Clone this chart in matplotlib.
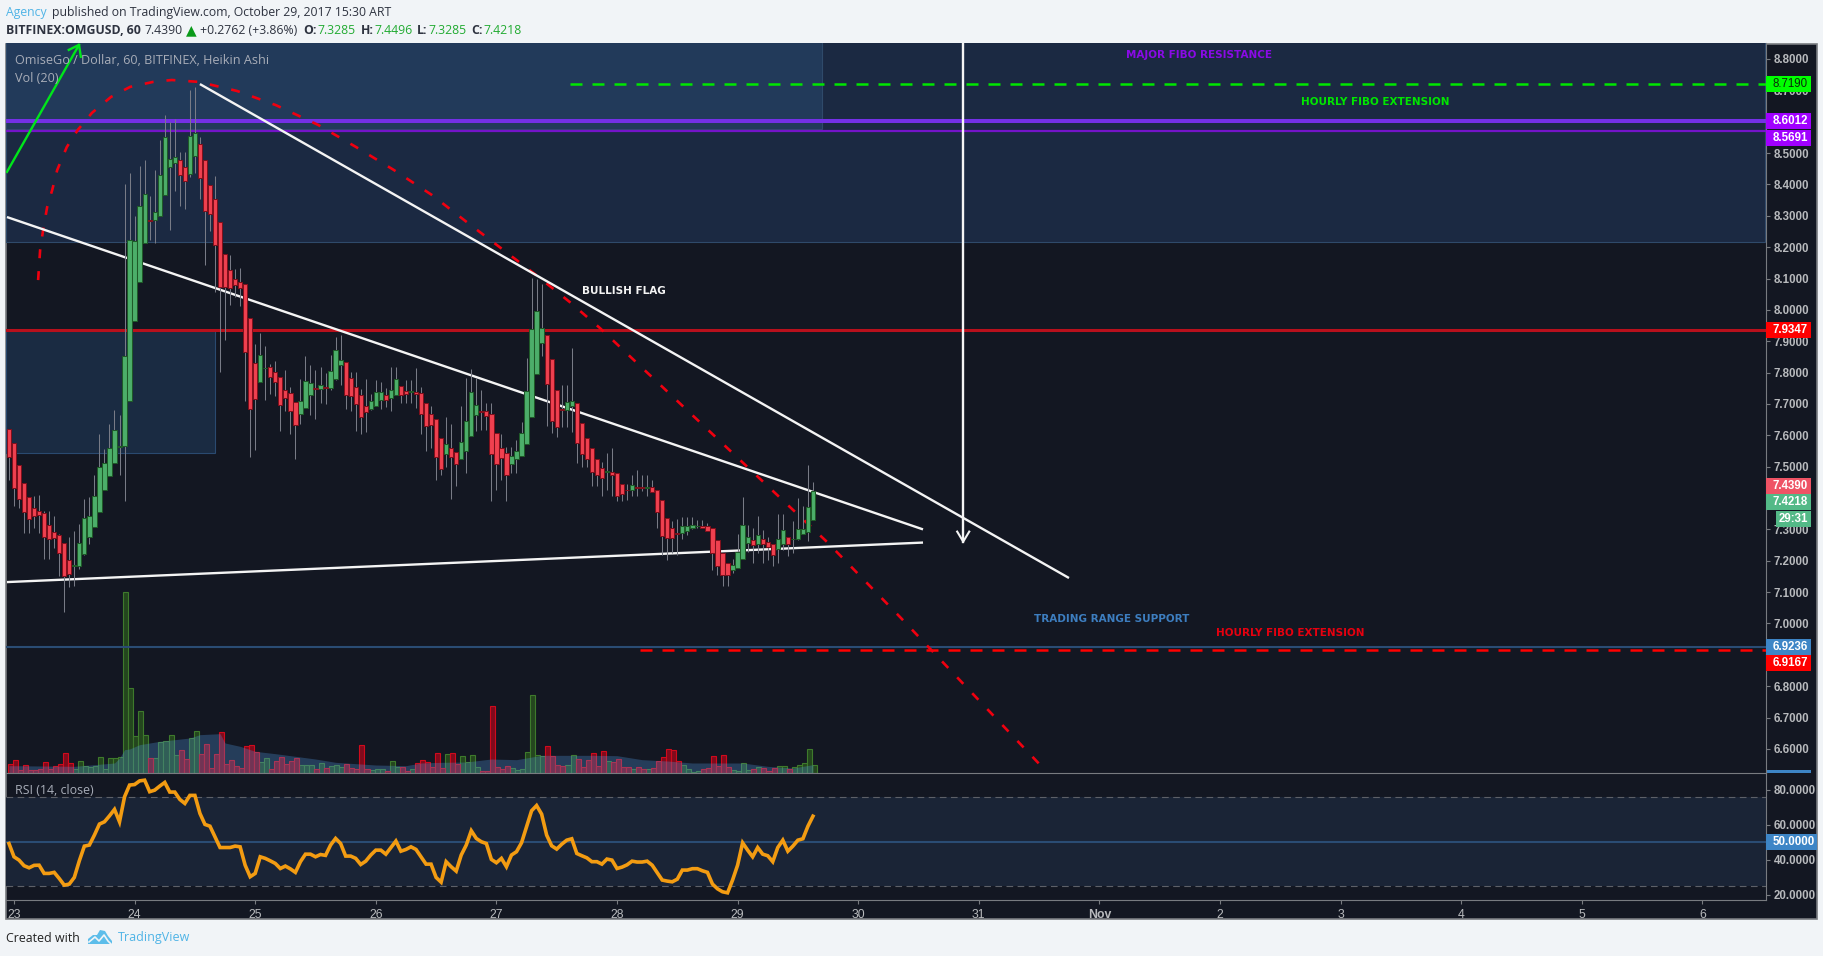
#!/usr/bin/env python3
import numpy as np
import matplotlib
matplotlib.use("Agg")
import matplotlib.pyplot as plt
from matplotlib.patches import Rectangle, Polygon
from matplotlib.ticker import FormatStrFormatter

W, H = 1824, 956
BG = "#f1f4f7"
DARK = "#131722"
GRID = "#787b80"
TXT = "#b8babd"

# hourly bars, hours counted from Oct 23 00:00
hours = list(range(-1, 160))
opens = [7.619,7.575,7.505,7.449,7.403,7.368,7.358,7.352,7.313,7.291,
         7.281,7.256,7.202,7.182,7.182,7.221,7.277,7.309,7.357,7.427,
         7.469,7.513,7.564,7.567,7.709,7.965,8.090,8.212,8.288,8.288,
         8.300,8.365,8.456,8.467,8.478,8.454,8.434,8.492,8.528,8.477,
         8.397,8.352,8.279,8.177,8.126,8.100,8.090,8.081,7.973,7.830,
         7.771,7.814,7.817,7.801,7.785,7.744,7.734,7.706,7.668,7.688,
         7.730,7.750,7.749,7.754,7.752,7.778,7.823,7.833,7.782,7.753,
         7.728,7.693,7.683,7.695,7.714,7.728,7.720,7.730,7.757,7.741,
         7.738,7.737,7.734,7.702,7.667,7.651,7.591,7.542,7.559,7.546,
         7.526,7.551,7.599,7.666,7.677,7.676,7.667,7.607,7.559,7.543,
         7.510,7.523,7.535,7.571,7.657,7.797,7.895,7.919,7.842,7.744,
         7.684,7.682,7.692,7.702,7.639,7.591,7.559,7.524,7.497,7.483,
         7.484,7.479,7.445,7.427,7.427,7.435,7.435,7.433,7.435,7.425,
         7.393,7.336,7.304,7.289,7.288,7.296,7.303,7.310,7.312,7.310,
         7.304,7.266,7.224,7.192,7.172,7.178,7.205,7.258,7.266,7.255,
         7.269,7.261,7.253,7.236,7.253,7.275,7.268,7.268,7.285,7.291,7.3285]
closes = [7.532,7.431,7.398,7.354,7.332,7.344,7.347,7.275,7.269,7.271,
          7.226,7.150,7.159,7.186,7.256,7.336,7.344,7.406,7.498,7.513,
          7.559,7.616,7.567,7.852,8.223,8.219,8.330,8.368,8.284,8.313,
          8.429,8.550,8.480,8.486,8.431,8.412,8.554,8.563,8.421,8.316,
          8.306,8.208,8.074,8.074,8.071,8.080,8.071,7.867,7.683,7.715,
          7.855,7.816,7.787,7.771,7.698,7.720,7.676,7.634,7.709,7.772,
          7.766,7.747,7.760,7.752,7.804,7.871,7.839,7.730,7.724,7.701,
          7.657,7.674,7.709,7.737,7.737,7.714,7.744,7.779,7.727,7.731,
          7.741,7.731,7.668,7.631,7.634,7.532,7.494,7.572,7.532,7.507,
          7.578,7.645,7.737,7.696,7.674,7.660,7.542,7.510,7.529,7.475,
          7.533,7.549,7.607,7.741,7.938,7.995,7.941,7.763,7.647,7.628,
          7.681,7.706,7.709,7.574,7.542,7.526,7.484,7.475,7.465,7.487,
          7.475,7.408,7.414,7.425,7.441,7.432,7.432,7.436,7.418,7.357,
          7.280,7.272,7.274,7.286,7.310,7.310,7.313,7.312,7.306,7.296,
          7.226,7.182,7.155,7.153,7.186,7.227,7.313,7.275,7.249,7.281,
          7.252,7.243,7.217,7.269,7.297,7.253,7.270,7.301,7.301,7.371,7.4218]
highs = [7.619,7.575,7.505,7.449,7.403,7.405,7.410,7.359,7.359,7.343,
         7.285,7.256,7.275,7.295,7.318,7.397,7.404,7.474,7.605,7.556,
         7.636,7.681,7.665,8.400,8.435,8.299,8.458,8.478,8.363,8.446,
         8.541,8.621,8.600,8.608,8.503,8.503,8.700,8.710,8.550,8.477,
         8.397,8.427,8.279,8.177,8.175,8.130,8.132,8.081,7.973,7.891,
         7.925,7.885,7.828,7.836,7.785,7.809,7.755,7.706,7.779,7.853,
         7.825,7.809,7.819,7.800,7.856,7.913,7.920,7.833,7.803,7.803,
         7.748,7.779,7.732,7.775,7.771,7.750,7.819,7.819,7.757,7.775,
         7.775,7.815,7.753,7.702,7.694,7.651,7.591,7.658,7.636,7.546,
         7.694,7.782,7.811,7.782,7.745,7.702,7.702,7.607,7.605,7.564,
         7.564,7.585,7.644,7.847,8.101,8.097,8.082,7.919,7.842,7.744,
         7.759,7.761,7.879,7.702,7.639,7.591,7.559,7.524,7.516,7.543,
         7.560,7.479,7.445,7.445,7.475,7.490,7.474,7.474,7.458,7.425,
         7.393,7.336,7.327,7.334,7.341,7.339,7.341,7.330,7.330,7.320,
         7.304,7.266,7.224,7.192,7.206,7.286,7.404,7.314,7.304,7.343,
         7.298,7.277,7.253,7.350,7.348,7.275,7.327,7.400,7.375,7.506,7.4496]
lows = [7.458,7.375,7.368,7.288,7.288,7.304,7.288,7.206,7.206,7.240,
        7.152,7.035,7.115,7.118,7.174,7.219,7.254,7.309,7.357,7.426,
        7.469,7.511,7.474,7.391,7.709,7.965,8.090,8.212,8.223,8.214,
        8.300,8.365,8.254,8.380,8.331,8.321,8.424,8.435,8.352,8.143,
        8.251,8.058,7.803,7.904,8.015,8.042,8.012,7.708,7.532,7.554,
        7.771,7.713,7.732,7.726,7.614,7.676,7.605,7.525,7.636,7.688,
        7.665,7.652,7.702,7.700,7.745,7.777,7.759,7.684,7.679,7.614,
        7.605,7.609,7.681,7.695,7.684,7.690,7.679,7.730,7.704,7.704,
        7.702,7.686,7.605,7.551,7.559,7.458,7.474,7.500,7.397,7.439,
        7.526,7.479,7.599,7.614,7.617,7.617,7.391,7.426,7.458,7.391,
        7.479,7.479,7.535,7.571,7.657,7.797,7.853,7.630,7.607,7.596,
        7.625,7.628,7.609,7.513,7.500,7.498,7.439,7.437,7.405,7.426,
        7.407,7.391,7.391,7.394,7.405,7.405,7.424,7.405,7.418,7.304,
        7.218,7.201,7.224,7.217,7.270,7.283,7.301,7.304,7.305,7.296,
        7.169,7.155,7.120,7.120,7.162,7.178,7.205,7.229,7.192,7.224,
        7.194,7.203,7.184,7.192,7.235,7.216,7.224,7.267,7.285,7.264,7.3285]
volumes = [28,40,10,25,10,10,13,33,13,20,
           28,60,31,13,36,20,17,22,48,12,
           46,46,48,543,255,110,186,115,46,46,
           93,96,114,54,70,43,106,127,58,88,
           16,58,123,28,40,20,16,80,85,64,
           34,46,13,37,49,28,37,46,25,25,
           23,13,31,16,20,25,19,28,16,13,
           85,13,9,13,13,7,37,19,19,7,
           13,31,39,33,18,60,15,58,60,28,
           51,33,54,18,6,6,201,18,12,21,
           15,9,12,63,234,54,51,81,51,24,
           21,24,54,42,18,39,60,21,66,36,
           33,42,18,18,12,18,12,12,15,36,
           48,72,69,36,24,12,3,6,12,15,
           51,21,54,18,9,6,30,9,12,18,
           15,6,15,21,21,12,18,24,30,72,24]
vol_ma_hours = [-1,12,20,21,22,23,25,27,29,32,35,37,41,42,45,48,52,56,60,64,68,72,78,81,
                85,90,95,100,105,110,115,120,125,130,135,140,145,150,155,159]
vol_ma = [22,20,30,45,70,72,85,90,95,100,105,115,118,90,80,65,58,50,42,32,28,24,22,30,
          32,33,42,40,53,53,53,52,40,36,30,30,30,20,15,25]
rsi = [49.4,41.8,39.9,36.7,35.5,36.9,37.0,32.3,32.3,32.9,
       29.4,25.6,26.2,30.0,39.5,47.9,48.5,54.2,60.5,61.8,
       65.2,68.9,61.8,76.1,82.8,83.1,85.2,85.6,79.0,79.9,
       82.2,84.3,78.8,78.8,74.6,72.3,76.9,76.9,66.6,60.3,
       59.3,53.2,47.1,47.1,47.1,47.9,47.5,37.0,30.4,32.3,
       41.8,40.9,39.5,38.0,35.1,36.5,34.9,32.9,39.0,43.3,
       43.3,41.8,43.1,42.6,48.5,52.3,49.4,42.2,42.2,40.9,
       37.4,39.3,42.8,45.6,45.6,43.3,47.0,50.8,45.0,46.0,
       47.5,46.0,
       41.8,37.6,37.6,30.0,27.3,39.0,36.1,33.6,42.8,48.5,
       56.7,52.3,50.4,49.4,40.3,38.4,40.9,36.1,42.8,44.7,
       49.8,59.0,68.1,71.1,66.2,54.2,48.1,46.2,49.0,51.3,
       52.1,43.7,42.4,41.2,39.0,39.0,37.6,40.5,39.9,35.1,
       35.9,37.2,39.3,38.8,38.8,39.3,37.0,32.7,28.5,27.9,
       27.5,29.0,34.2,34.2,35.0,35.0,33.8,32.9,26.2,23.5,
       21.8,21.2,28.5,37.0,49.8,45.6,41.8,47.1,43.3,42.4,
       39.0,47.1,51.3,45.0,47.9,51.3,52.1,59.3,65.0]

price_ticks = [6.6,6.7,6.8,6.9,7.0,7.1,7.2,7.3,7.4,7.5,7.6,7.7,7.8,7.9,
               8.0,8.1,8.2,8.3,8.4,8.5,8.6,8.7,8.8]
rsi_ticks = [20,40,60,80]
date_ticks = [0,24,48,72,96,120,144,168,192,216,240,264,288,312,336]
date_labels = ["23","24","25","26","27","28","29","30","31","Nov","2","3","4","5","6"]

# hand drawn objects on the chart (hour, price)
arc_hours = [4.8,5.2,5.8,6.6,7.6,8.6,10.5,12.7,15.5,19.3,23.1,27.7,31.4,36.8,44.4,52.1,60.5,
             68.1,75.6,83.2,90.1,96.9,103.9,110.6,116.6,161.8,176.3,204.8]
arc_prices = [8.095,8.191,8.255,8.328,8.382,8.446,8.519,8.574,8.628,8.679,8.711,8.727,8.733,
              8.727,8.698,8.653,8.590,8.519,8.446,8.366,8.280,8.197,8.111,8.025,7.942,7.260,
              7.021,6.539]
white_lines = [([37.0,209.95],[8.72,7.145]),
               ([-1.4,180.9],[8.296,7.300]),
               ([-1.4,180.9],[7.132,7.258])]


def fx(x):
    return x / W


def fy(y):
    return 1 - y / H


def pane(x0, y0, x1, y1):
    ax = fig.add_axes([fx(x0), fy(y1), fx(x1) - fx(x0), fy(y0) - fy(y1)])
    ax.set_facecolor("none")
    for s in ax.spines.values():
        s.set_visible(False)
    return ax


fig = plt.figure(figsize=(W / 100, H / 100), dpi=100, facecolor=BG)

# page layer in pixels
page = fig.add_axes([0, 0, 1, 1])
page.set_xlim(0, W)
page.set_ylim(H, 0)
page.axis("off")
page.add_patch(Rectangle((6, 43.5), 1811, 875.5, fc=DARK, ec=GRID, lw=1.2))

sans = "Open Sans"
dk = "#2e3340"
gr = "#22ab32"
page.text(6, 12, "Agency", color="#4fb4e6", fontsize=8.85, family=sans, va="center")
page.text(52, 12, "published on TradingView.com, October 29, 2017 15:30 ART", color=dk,
          fontsize=8.85, family=sans, va="center")
line2 = [(6, "BITFINEX:OMGUSD, 60", dk, "bold"), (144.5, "7.4390", dk, "normal"),
         (200, "+0.2762 (+3.86%)", dk, "normal"),
         (303.5, "O:", dk, "bold"), (317.5, "7.3285", gr, "normal"),
         (360.5, "H:", dk, "bold"), (374, "7.4496", gr, "normal"),
         (417, "L:", dk, "bold"), (428, "7.3285", gr, "normal"),
         (471.5, "C:", dk, "bold"), (483, "7.4218", gr, "normal")]
for x, s, c, w in line2:
    page.text(x, 30, s, color=c, fontsize=8.85, family=sans, fontweight=w, va="center")
page.text(191.5, 30, "▲", color="#0a9a1a", fontsize=10, family="DejaVu Sans", ha="center", va="center")

page.text(6, 938, "Created with", color="#222222", fontsize=8.9, family=sans, va="center")
page.text(118, 938, "TradingView", color="#4fb4e6", fontsize=9, family=sans, va="center")
page.add_patch(Polygon([(88, 944), (88, 939), (93, 935), (97, 935), (100, 930), (105, 931),
                        (108, 936), (112, 941), (112, 944)], fc="#5cbdea", ec="none"))
page.plot([89, 95, 99, 104, 108, 112], [942, 937, 941, 935, 941, 945], color=BG, lw=1.2)

# volume goes underneath the price pane
vol_ax = pane(6, 43, 1766, 773)
vol_ax.set_xlim(-1.592, 348.66)
vol_ax.set_ylim(0, 2190)
vol_ax.set_xticks([])
vol_ax.set_yticks([])
vol_x = np.array(hours) + 0.25
up = np.array(closes) >= np.array(opens)
vol_ax.bar(vol_x[up], np.array(volumes)[up], width=1.0, color="#24461e", edgecolor="#3e7a2c", lw=0.8)
vol_ax.bar(vol_x[~up], np.array(volumes)[~up], width=1.0, color="#800a1c", edgecolor="#d00a1c", lw=0.8)
vol_ax.fill_between(vol_ma_hours, 0, vol_ma, color="#5096dc", alpha=0.3, lw=0)

# price pane
ax = pane(6, 43, 1766, 773)
ax.set_xlim(-1.592, 348.66)
ax.set_ylim(6.5232, 8.851)
ax.set_xticks([])
ax.yaxis.tick_right()
ax.set_yticks(price_ticks)
ax.yaxis.set_major_formatter(FormatStrFormatter("%.4f"))
ax.tick_params(axis="y", length=3, width=0.8, color=GRID, pad=2.4, labelsize=8.3, labelcolor=TXT)
for lab in ax.get_yticklabels():
    lab.set_family("Liberation Sans")
    lab.set_fontweight("bold")
ax.spines["right"].set_visible(True)
ax.spines["right"].set_color(GRID)
ax.spines["bottom"].set_visible(True)
ax.spines["bottom"].set_color(GRID)

# zones
ax.add_patch(Rectangle((-1.592, 8.2165), 350, 0.64, fc="#1b2942", ec="#2f4a6a", lw=0.8, zorder=0.5))
ax.add_patch(Rectangle((-1.592, 8.577), 162.4, 0.28, fc="#223a5a", ec="#2f4a6a", lw=0.8, zorder=0.6))
ax.add_patch(Rectangle((-1.592, 7.5446), 41.5, 0.39, fc="#1a2b42", ec="#2a4a70", lw=0.8, zorder=0.6))

# levels
ax.axhline(8.6012, color="#7430e6", lw=2.9, zorder=1)
ax.axhline(8.5691, color="#7414c8", lw=1.6, zorder=1)
ax.axhline(7.9347, color="#b8101c", lw=2.2, zorder=1)
ax.axhline(6.9236, color="#2a4c74", lw=1.5, zorder=1)
ax.hlines(8.7190, 110.6, 348.66, color="#00e600", lw=1.8, linestyles=(0, (4.8, 4)), zorder=1)
ax.hlines(6.9167, 124.6, 348.66, color="#ff0000", lw=1.8, linestyles=(0, (4.8, 4)), zorder=1)

# drawings
ax.plot(arc_hours, arc_prices, color="#f0000f", lw=1.9, ls=(0, (3.4, 4.9)), zorder=1.5)
for xs, ys in white_lines:
    ax.plot(xs, ys, color="#f4f4f4", lw=1.7, zorder=1.6, solid_capstyle="butt")
ax.plot([-1.4, 12.94], [8.44, 8.845], color="#00e61a", lw=1.7, zorder=1.6)
ax.plot([10.9, 12.94, 13.3], [8.829, 8.845, 8.807], color="#00e61a", lw=1.7, zorder=1.6)
ax.plot([188.9, 188.9], [8.851, 7.261], color="#f4f4f4", lw=1.7, zorder=5)
ax.plot([187.7, 188.9, 190.1], [7.293, 7.261, 7.293], color="#f4f4f4", lw=1.5, zorder=5)

# heikin ashi candles
h_arr = np.array(hours)
o_arr, c_arr = np.array(opens), np.array(closes)
ax.vlines(h_arr, lows, highs, color="#787b86", lw=0.75, zorder=2)
ax.bar(h_arr[up], (c_arr - o_arr)[up], bottom=o_arr[up], width=0.85, color="#4cae6a",
       edgecolor="#1f5a28", lw=0.75, zorder=3)
ax.bar(h_arr[~up], (o_arr - c_arr)[~up], bottom=c_arr[~up], width=0.85, color="#f0404f",
       edgecolor="#80101c", lw=0.75, zorder=3)

# labels on the chart
note = dict(family="DejaVu Sans", fontweight="bold", fontsize=7.45, ha="left", va="center", zorder=6)
page_notes = [(1125.7, 55, "MAJOR FIBO RESISTANCE", "#8a0ae6"),
              (1301, 101.7, "HOURLY FIBO EXTENSION", "#00e600"),
              (582, 290.7, "BULLISH FLAG", "#f4f4f4"),
              (1034, 619, "TRADING RANGE SUPPORT", "#3d7ec0"),
              (1216, 633, "HOURLY FIBO EXTENSION", "#e6000f")]
for x, y, s, c in page_notes:
    ax.annotate(s, xy=(fx(x), fy(y)), xycoords="figure fraction", color=c, **note)
for y, s in [(60.5, "OmiseGo / Dollar, 60, BITFINEX, Heikin Ashi"), (78, "Vol (20)")]:
    ax.annotate(s, xy=(fx(15), fy(y)), xycoords="figure fraction", color="#a8adb8",
                fontsize=9.1, family=sans, va="center", zorder=6)

# last value boxes on the price scale
box_trans = ax.get_yaxis_transform()
boxes = [(8.7190, "8.7190", "#00ff00", "#0a2a0a", 45), (8.6012, "8.6012", "#a000ff", "white", 45),
         (8.548, "8.5691", "#a000ff", "white", 45), (7.9347, "7.9347", "#ff0000", "white", 45),
         (7.4390, "7.4390", "#ef5365", "white", 45), (7.387, "7.4218", "#53b987", "white", 45),
         (6.9236, "6.9236", "#3d85c6", "white", 45), (6.874, "6.9167", "#ff0000", "white", 45)]
for p, s, bg, fg, wd in boxes:
    ax.add_patch(Rectangle((1, p - 8 / 313.6), wd / 1760, 16 / 313.6, transform=box_trans, fc=bg, ec="none",
                           clip_on=False, zorder=10))
    ax.text(1 + 7 / 1760, p, s, transform=box_trans, color=fg, fontsize=8.3, family="Liberation Sans",
            fontweight="normal" if fg != "white" else "bold", va="center", ha="left", clip_on=False, zorder=11)
ax.add_patch(Rectangle((1 + 10 / 1760, 7.333 - 8 / 313.6), 35 / 1760, 16 / 313.6, transform=box_trans,
                       fc="#53b987", ec="none", clip_on=False, zorder=10))
ax.text(1 + 13 / 1760, 7.333, "29:31", transform=box_trans, color="white", fontsize=8.3,
        family="Liberation Sans", fontweight="bold", va="center", ha="left", clip_on=False, zorder=11)
page.add_patch(Rectangle((1766, 770), 45, 3, fc="#3d85c6", ec="none"))

# rsi pane
rx = pane(6, 773, 1766, 900)
rx.set_xlim(-1.592, 348.66)
rx.set_ylim(17.1, 89.7)
rx.axhspan(25.1, 75.8, color="#1a2436", lw=0, zorder=0.5)
rx.axhline(75.8, color="#5d6068", lw=0.8, ls=(0, (6, 4)), zorder=1)
rx.axhline(25.1, color="#5d6068", lw=0.8, ls=(0, (6, 4)), zorder=1)
rx.axhline(50, color="#2a4c74", lw=1.5, zorder=1)
rx.plot(hours, rsi, color="#f39c12", lw=2.6, zorder=2, solid_joinstyle="miter")
page.text(15, 790.7, "RSI (14, close)", color="#a8adb8", fontsize=8.9, family=sans, va="center")

rx.yaxis.tick_right()
rx.set_yticks(rsi_ticks)
rx.yaxis.set_major_formatter(FormatStrFormatter("%.4f"))
rx.tick_params(axis="y", length=3, width=0.8, color=GRID, pad=2.4, labelsize=8.3, labelcolor=TXT)
for lab in rx.get_yticklabels():
    lab.set_family("Liberation Sans")
    lab.set_fontweight("bold")
rx.set_xticks(date_ticks)
rx.set_xticklabels(date_labels, family="Liberation Sans")
rx.tick_params(axis="x", length=3, width=0.8, color=GRID, pad=3.2, labelsize=8.8, labelcolor=TXT)
rx.get_xticklabels()[9].set_fontweight("bold")
rx.spines["right"].set_visible(True)
rx.spines["right"].set_color(GRID)
rx.spines["bottom"].set_visible(True)
rx.spines["bottom"].set_color(GRID)
rx.add_patch(Rectangle((1, 50 - 8 / 1.75), 51 / 1760, 16 / 1.75, transform=rx.get_yaxis_transform(), fc="#3d85c6",
                       ec="none", clip_on=False, zorder=10))
rx.text(1 + 7 / 1760, 50, "50.0000", transform=rx.get_yaxis_transform(), color="white", fontsize=8.3,
        family="Liberation Sans", fontweight="bold", va="center", ha="left", clip_on=False, zorder=11)

plt.savefig("out.png", dpi=100, facecolor=BG)
